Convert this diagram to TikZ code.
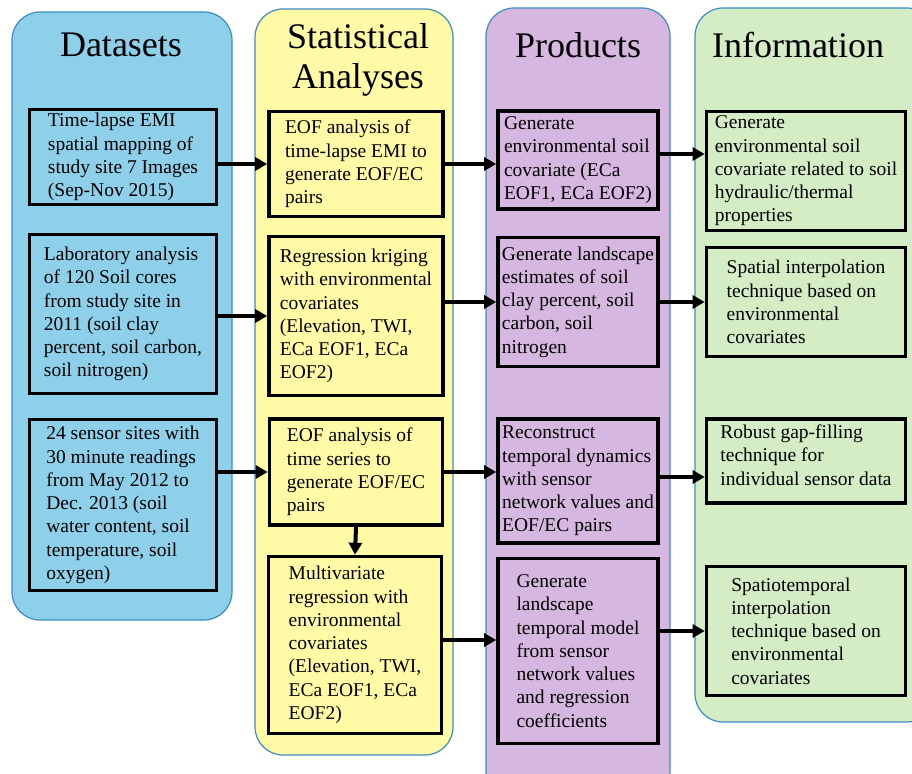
\documentclass[tikz,border=0pt]{standalone}
\usepackage{fontspec}
\setmainfont{Liberation Serif}
\usepackage{tikz}
\usetikzlibrary{positioning, arrows.meta, calc}
\definecolor{dsblue}{RGB}{142,208,234}
\definecolor{styellow}{RGB}{255,250,165}
\definecolor{prpurple}{RGB}{214,183,224}
\definecolor{ingreen}{RGB}{212,237,197}
\definecolor{panelline}{RGB}{60,140,195}
\tikzstyle{panel}=[%
      rectangle, rounded corners=28pt, draw=panelline, line width=1.2pt
]
\tikzstyle{box}=[%
      rectangle, draw=black, line width=3.6pt, fill=none,
      align=left, inner sep=2pt, font=\fontsize{19.5}{23.3}\selectfont
]
\tikzstyle{title}=[%
      align=center, inner sep=0pt, font=\fontsize{36}{40}\selectfont
]
\begin{document}
\begin{tikzpicture}[x=1pt, y=-1pt,
    -{Triangle[length=12pt,width=13pt]},
    line width=4pt
  ]
    \useasboundingbox (0,0) rectangle (912,773);

    % columns
    \node[panel, fill=dsblue,   minimum width=220pt, minimum height=608pt] (colD) at (122,316) {};
    \node[panel, fill=styellow, minimum width=198pt, minimum height=746pt] (colS) at (354,382) {};
    \node[panel, fill=prpurple, minimum width=184pt, minimum height=792pt] (colP) at (578,404) {};
    \node[panel, fill=ingreen,  minimum width=240pt, minimum height=714pt] (colI) at (815,365) {};

    \node[title] (tD) at (121,45) {Datasets};
    \node[title] (tS) at (358,60) {Statistical\\Analyses};
    \node[title] (tP) at (578,45) {Products};
    \node[title] (tI) at (798,45) {Information};

    % datasets
    \node[box, minimum width=187pt, minimum height=95pt]  (D1) at (123,157) {Time-lapse EMI\\spatial mapping of\\study site 7 Images\\(Sep-Nov 2015)};
    \node[box, minimum width=187pt, minimum height=159pt] (D2) at (123,314) {Laboratory analysis\\of 120 Soil cores\\from study site in\\2011 (soil clay\\percent, soil carbon,\\soil nitrogen)};
    \node[box, minimum width=187pt, minimum height=171pt] (D3) at (123,505) {24 sensor sites with\\30 minute readings\\from May 2012 to\\Dec. 2013 (soil\\water content, soil\\temperature, soil\\oxygen)};

    % statistical analyses
    \node[box, minimum width=174pt, minimum height=105pt] (S1) at (356,164) {EOF analysis of\\time-lapse EMI to\\generate EOF/EC\\pairs};
    \node[box, minimum width=174pt, minimum height=159pt] (S2) at (356,316) {Regression kriging\\with environmental\\covariates\\(Elevation, TWI,\\ECa EOF1, ECa\\EOF2)};
    \node[box, minimum width=173pt, minimum height=106pt] (S3) at (356,472) {EOF analysis of\\time series to\\generate EOF/EC\\pairs};
    \node[box, minimum width=173pt, minimum height=177pt] (S4) at (355,645) {Multivariate\\regression with\\environmental\\covariates\\(Elevation, TWI,\\ECa EOF1, ECa\\EOF2)};

    % products
    \node[box, minimum width=160pt, minimum height=98pt]  (P1) at (578,160) {Generate\\environmental soil\\covariate (ECa\\EOF1, ECa EOF2)};
    \node[box, minimum width=160pt, minimum height=129pt] (P2) at (578,302) {Generate landscape\\estimates of soil\\clay percent, soil\\carbon, soil\\nitrogen};
    \node[box, minimum width=160pt, minimum height=124pt] (P3) at (578,481) {Reconstruct\\temporal dynamics\\with sensor\\network values and\\EOF/EC pairs};
    \node[box, minimum width=160pt, minimum height=185pt] (P4) at (578,651) {Generate\\landscape\\temporal model\\from sensor\\network values\\and regression\\coefficients};

    % information
    \node[box, minimum width=199pt, minimum height=119pt] (I1) at (806,171) {Generate\\environmental soil\\covariate related to soil\\hydraulic/thermal\\properties};
    \node[box, minimum width=199pt, minimum height=109pt] (I2) at (806,302) {Spatial interpolation\\technique based on\\environmental\\covariates};
    \node[box, minimum width=199pt, minimum height=84pt]  (I3) at (806,461) {Robust gap-filling\\technique for\\individual sensor data\\[-11pt]};
    \node[box, minimum width=199pt, minimum height=129pt] (I4) at (806,631) {Spatiotemporal\\interpolation\\technique based on\\environmental\\covariates};

    % connectors
    \draw (S1.west -| D1.east) -- (S1.west);
    \draw (S2.west -| D2.east) -- (S2.west);
    \draw (S3.west -| D3.east) -- (S3.west);
    \draw (S1.east) -- (S1.east -| P1.west);
    \draw (P2.west -| S2.east) -- (P2.west);
    \draw (S3.east) -- (S3.east -| P3.west);
    \draw ([yshift=5pt]S4.east) -- ([yshift=5pt]S4.east -| P4.west);
    \draw (S3.south) -- (S4.north);
    \draw ([yshift=6pt]P1.east) -- ([yshift=6pt]P1.east -| I1.west);
    \draw (P2.east) -- (P2.east -| I2.west);
    \draw ([yshift=4pt]P3.east) -- ([yshift=4pt]P3.east -| I3.west);
    \draw (I4.west -| P4.east) -- (I4.west);
\end{tikzpicture}
\end{document}
